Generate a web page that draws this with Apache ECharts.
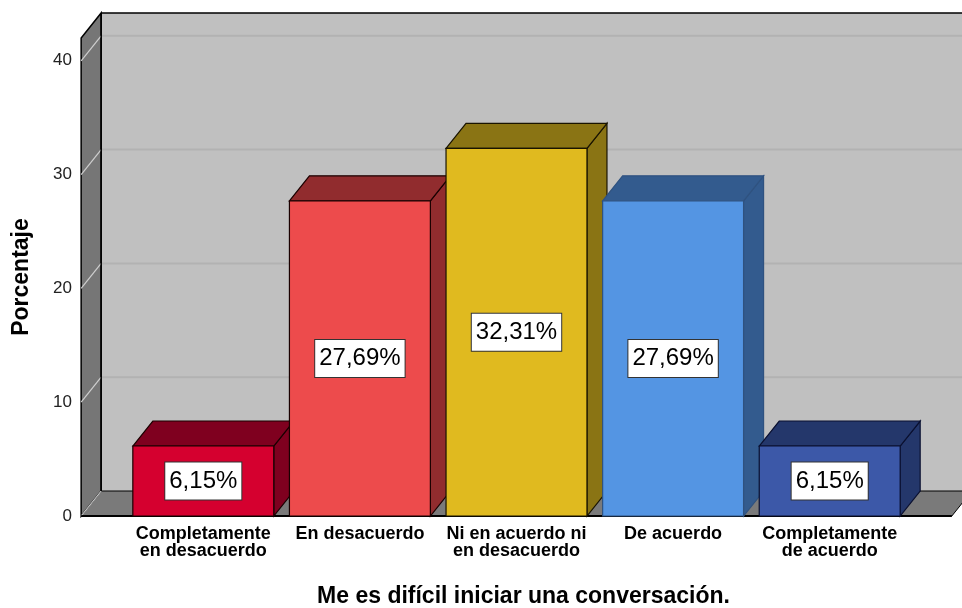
<!DOCTYPE html>
<html>
<head>
<meta charset="utf-8">
<script src="https://cdn.jsdelivr.net/npm/echarts@6/dist/echarts.min.js"></script>
<style>
html,body{margin:0;padding:0;background:#fff;}
#chart{width:962px;height:608px;}
</style>
</head>
<body>
<div id="chart"></div>
<script>
// ---- data ----
const categories = ['Completamente\nen desacuerdo', 'En desacuerdo', 'Ni en acuerdo ni\nen desacuerdo', 'De acuerdo', 'Completamente\nde acuerdo'];
const values = [6.15, 27.69, 32.31, 27.69, 6.15];
const labelTexts = ['6,15%', '27,69%', '32,31%', '27,69%', '6,15%'];
const yTicks = [0, 10, 20, 30, 40];
const yMax = 42;
const xTitle = 'Me es difícil iniciar una conversación.';
const yTitle = 'Porcentaje';

// ---- styles ----
const frontColors = ['#d5002f', '#ed4b4c', '#e0ba1f', '#5495e3', '#3c58a8'];
const darkColors  = ['#7f001f', '#912c2e', '#8a7414', '#335b8e', '#24376b'];
const edgeColors  = ['#1a0000', '#1a0000', '#1a1400', '#2f5280', '#0a1030'];
const DX = 20, DY = 25;
const FONT = '"Liberation Sans", Arial, sans-serif';

const chart = echarts.init(document.getElementById('chart'), null, {renderer: 'canvas'});

function wallsRender(params, api) {
  const cs = params.coordSys;
  const band = api.size([1, 0])[0];
  const pad = band * 0.28;
  const x0 = cs.x - pad;
  const x1 = cs.x + cs.width + pad;
  const yb = api.coord([0, 0])[1];
  const yt = api.coord([0, yMax])[1];
  const children = [];
  // back wall
  children.push({type: 'polygon', shape: {points: [[x0 + DX, yt - DY], [x1 + DX, yt - DY], [x1 + DX, yb - DY], [x0 + DX, yb - DY]]},
    style: {fill: '#c0c0c0', stroke: null}});
  // back gridlines
  yTicks.forEach(function (t) {
    if (t === 0) return;
    const y = api.coord([0, t])[1];
    children.push({type: 'line', shape: {x1: x0 + DX, y1: y - DY, x2: x1 + DX, y2: y - DY},
      style: {stroke: '#b2b2b2', lineWidth: 2}});
  });
  // back wall top edge
  children.push({type: 'line', shape: {x1: x0 + DX, y1: yt - DY, x2: x1 + DX, y2: yt - DY}, style: {stroke: '#000', lineWidth: 1.5}});
  // left wall
  children.push({type: 'polygon', shape: {points: [[x0, yb], [x0, yt], [x0 + DX, yt - DY], [x0 + DX, yb - DY]]},
    style: {fill: '#767676', stroke: '#000', lineWidth: 1.5}});
  // floor
  children.push({type: 'polygon', shape: {points: [[x0, yb], [x0 + DX, yb - DY], [x1 + DX, yb - DY], [x1, yb]]},
    style: {fill: '#7a7a7a', stroke: '#000', lineWidth: 1}});
  // side-wall diagonals
  yTicks.forEach(function (t) {
    const y = api.coord([0, t])[1];
    children.push({type: 'line', shape: {x1: x0, y1: y, x2: x0 + DX, y2: y - DY},
      style: {stroke: '#cfcfcf', lineWidth: 1.2}});
  });
  // redraw edges
  children.push({type: 'line', shape: {x1: x0, y1: yb, x2: x1, y2: yb}, style: {stroke: '#000', lineWidth: 2}});
  children.push({type: 'line', shape: {x1: x0 + DX, y1: yt - DY, x2: x0 + DX, y2: yb - DY}, style: {stroke: '#000', lineWidth: 1.5}});
  return {type: 'group', children: children};
}

function barsRender(params, api) {
  const i = api.value(0);
  const v = api.value(1);
  const c = api.coord([i, 0]);
  const t = api.coord([i, v]);
  const bw = api.size([1, 0])[0] * 0.9;
  const l = c[0] - bw / 2, r = c[0] + bw / 2;
  const yb = c[1], yt = t[1];
  const edge = edgeColors[i];
  return {type: 'group', children: [
    {type: 'polygon', shape: {points: [[r, yt], [r + DX, yt - DY], [r + DX, yb - DY], [r, yb]]},
      style: {fill: darkColors[i], stroke: edge, lineWidth: 1.2}},
    {type: 'polygon', shape: {points: [[l, yt], [l + DX, yt - DY], [r + DX, yt - DY], [r, yt]]},
      style: {fill: darkColors[i], stroke: edge, lineWidth: 1.2}},
    {type: 'rect', shape: {x: l, y: yt, width: bw, height: yb - yt},
      style: {fill: frontColors[i], stroke: edge, lineWidth: 1.2}},
    {type: 'text', x: c[0], y: (yt + yb) / 2,
      style: {text: labelTexts[i], fontSize: 24, fontFamily: FONT, fill: '#000', align: 'center', verticalAlign: 'middle',
        backgroundColor: '#fff', borderColor: '#333', borderWidth: 1, padding: [6, 4, 5, 4], lineHeight: 26}}
  ]};
}

const option = {
  backgroundColor: '#fff',
  animation: false,
  grid: {left: 125, right: 54, top: 38, bottom: 92, containLabel: false, outerBoundsMode: 'none'},
  xAxis: {
    type: 'category', data: categories,
    axisLine: {show: false}, axisTick: {show: false},
    axisLabel: {interval: 0, fontSize: 18, fontWeight: 'bold', fontFamily: FONT, color: '#000', lineHeight: 17, margin: 10},
    name: xTitle, nameLocation: 'middle', nameGap: 69,
    nameTextStyle: {fontSize: 23, fontWeight: 'bold', fontFamily: FONT, color: '#000', padding: [0, 0, 0, 14]}
  },
  yAxis: {
    type: 'value', min: 0, max: yMax, interval: 10, offset: 44,
    axisLine: {show: false}, axisTick: {show: false}, splitLine: {show: false},
    axisLabel: {fontSize: 17, fontFamily: FONT, color: '#222', margin: 9,
      formatter: function (v) { return yTicks.indexOf(v) >= 0 ? String(v) : ''; }},
    name: yTitle, nameLocation: 'middle', nameGap: 48, nameRotate: 90,
    nameTextStyle: {fontSize: 23, fontWeight: 'bold', fontFamily: FONT, color: '#000'}
  },
  series: [
    {type: 'custom', renderItem: wallsRender, data: [[0, 0]], clip: false, silent: true, z: 1},
    {type: 'custom', renderItem: barsRender, data: values.map(function (v, i) { return [i, v]; }), clip: false, silent: true, z: 2}
  ]
};
chart.setOption(option);
</script>
</body>
</html>
